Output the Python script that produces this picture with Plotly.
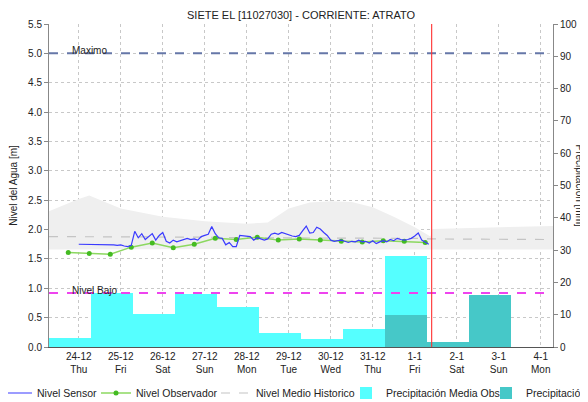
import pandas as pd
import plotly.graph_objects as go

# ---------------- data ----------------
title_text = "SIETE EL [11027030] - CORRIENTE: ATRATO"

# Nivel Sensor: every 2 hours from 24-12 00:00
sensor_start = "2020-12-24 00:00"
sensor_vals = [
    1.75, 1.75, 1.75, 1.74, 1.75, 1.75, 1.74, 1.74, 1.75, 1.74,
    1.74, 1.73, 1.74, 1.72, 1.71, 1.73, 1.97, 1.86, 1.93, 1.83,
    1.88, 1.93, 1.82, 1.90, 1.95, 1.80, 1.77, 1.82, 1.79, 1.81,
    1.83, 1.85, 1.83, 1.84, 1.82, 1.88, 1.90, 1.92, 2.05, 1.93,
    1.86, 1.85, 1.74, 1.78, 1.71, 1.71, 1.90, 1.89, 1.88, 1.88,
    1.82, 1.86, 1.84, 1.82, 1.84, 1.92, 1.94, 1.92, 1.95, 1.93,
    1.90, 1.89, 1.88, 1.90, 1.98, 2.06, 1.94, 1.95, 2.04, 2.01,
    1.95, 1.90, 1.82, 1.80, 1.81, 1.82, 1.80, 1.78, 1.80, 1.79,
    1.82, 1.79, 1.80, 1.77, 1.81, 1.76, 1.79, 1.81, 1.79, 1.83,
    1.81, 1.85, 1.83, 1.82, 1.83, 1.85, 1.89, 1.94, 1.82, 1.78,
    1.75,
]

# Nivel Observador: 06:00 and 18:00 readings
obs_start = "2020-12-23 18:00"
obs_vals = [1.61, 1.59, 1.58, 1.70, 1.77, 1.69, 1.75, 1.85, 1.83,
            1.87, 1.82, 1.84, 1.82, 1.80, 1.79, 1.81, 1.80, 1.78]

# Nivel Medio Historico and its band
hist_times = ["2020-12-23 07:00", "2020-12-24 00:00", "2020-12-24 06:00",
              "2020-12-25 00:00", "2020-12-26 00:00", "2020-12-27 00:00",
              "2020-12-28 00:00", "2020-12-28 12:00", "2020-12-29 00:00",
              "2020-12-29 12:00", "2020-12-30 00:00", "2020-12-30 12:00",
              "2020-12-31 00:00", "2020-12-31 12:00", "2021-01-01 00:00",
              "2021-01-01 09:00", "2021-01-01 10:00", "2021-01-02 00:00",
              "2021-01-03 00:00", "2021-01-04 00:00", "2021-01-04 07:00"]
hist_upper = [2.31, 2.52, 2.58, 2.36, 2.22, 2.14, 2.10, 2.12, 2.36, 2.46,
              2.48, 2.47, 2.38, 2.22, 2.04, 1.88, 2.01, 2.02, 2.04, 2.05, 2.06]
hist_lower = [1.66, 1.66, 1.66, 1.66, 1.66, 1.66, 1.66, 1.67, 1.68, 1.68,
              1.67, 1.66, 1.66, 1.66, 1.66, 1.66, 1.66, 1.66, 1.66, 1.66, 1.66]
hist_mean = [1.88, 1.88, 1.88, 1.87, 1.87, 1.87, 1.86, 1.86, 1.86, 1.86,
             1.86, 1.85, 1.85, 1.85, 1.85, 1.84, 1.84, 1.84, 1.84, 1.83, 1.83]

# Precipitation (daily 07:00 -> 07:00), bar centres at 19:00
precip_obs_start = "2020-12-23 19:00"
precip_obs = [2.8, 16.8, 10.3, 16.4, 12.3, 4.3, 2.5, 5.5, 28.2]
precip_pro_start = "2020-12-31 19:00"
precip_pro = [9.8, 1.6, 16.0]

# reference levels
nivel_maximo = 5.0
nivel_bajo = 0.92
now_time = "2021-01-01 09:40"

# x ticks
tick_dates = ["2020-12-24", "2020-12-25", "2020-12-26", "2020-12-27",
              "2020-12-28", "2020-12-29", "2020-12-30", "2020-12-31",
              "2021-01-01", "2021-01-02", "2021-01-03", "2021-01-04"]
tick_days = ["24-12", "25-12", "26-12", "27-12", "28-12", "29-12",
             "30-12", "31-12", "1-1", "2-1", "3-1", "4-1"]
tick_wd = ["Thu", "Fri", "Sat", "Sun", "Mon", "Tue", "Wed", "Thu",
           "Fri", "Sat", "Sun", "Mon"]
x_range = ["2020-12-23 07:00", "2021-01-04 07:00"]

# ---------------- figure ----------------
FONT = "Liberation Sans, Arial, sans-serif"
W, H = 588, 402
OFF = 8  # the page body adds an 8px margin; compensate inside the figure
ML, MT = 49 - OFF, 24 - OFF
MR = W - (553 - OFF)
MB = H - (347 - OFF)
PW = W - ML - MR
PH = H - MT - MB

sensor_t = pd.date_range(sensor_start, periods=len(sensor_vals), freq="2h")
obs_t = pd.date_range(obs_start, periods=len(obs_vals), freq="12h")
pobs_t = pd.date_range(precip_obs_start, periods=len(precip_obs), freq="D")
ppro_t = pd.date_range(precip_pro_start, periods=len(precip_pro), freq="D")
DAY_MS = 86400000

fig = go.Figure()

fig.add_trace(go.Bar(x=pobs_t, y=precip_obs, width=DAY_MS, yaxis="y2",
                     name="Precipitación Media Obs", marker_color="#55ffff",
                     marker_line_width=0, legend="legend4"))
fig.add_trace(go.Bar(x=ppro_t, y=precip_pro, width=DAY_MS, yaxis="y2",
                     name="Precipitación Media Pronosticada", marker_color="#46c8c8",
                     marker_line_width=0, legend="legend5"))

fig.add_trace(go.Scatter(x=pd.to_datetime(hist_times), y=hist_lower, mode="lines",
                         line=dict(width=0, color="#efefef"), showlegend=False,
                         hoverinfo="skip"))
fig.add_trace(go.Scatter(x=pd.to_datetime(hist_times), y=hist_upper, mode="lines",
                         line=dict(width=0, color="#efefef"), fill="tonexty",
                         fillcolor="#efefef", showlegend=False, hoverinfo="skip"))
fig.add_trace(go.Scatter(x=pd.to_datetime(hist_times), y=hist_mean, mode="lines",
                         line=dict(width=1.2, color="#c4c4c4", dash="dash"),
                         name="Nivel Medio Historico", legend="legend3"))
fig.add_trace(go.Scatter(x=obs_t, y=obs_vals, mode="lines+markers",
                         line=dict(width=1.5, color="#8cd860"),
                         marker=dict(size=5, color="#44bb22"),
                         name="Nivel Observador", legend="legend2"))
fig.add_trace(go.Scatter(x=sensor_t, y=sensor_vals, mode="lines",
                         line=dict(width=1.2, color="#3a3aff"),
                         name="Nivel Sensor", legend="legend"))

fig.add_shape(type="line", xref="paper", x0=0, x1=1, yref="y",
              y0=nivel_maximo, y1=nivel_maximo, layer="above",
              line=dict(color="#6677a8", width=2, dash="dash"))
fig.add_shape(type="line", xref="paper", x0=0, x1=1, yref="y",
              y0=nivel_bajo, y1=nivel_bajo, layer="above",
              line=dict(color="#ee44ee", width=2, dash="dash"))
fig.add_shape(type="line", xref="x", x0=now_time, x1=now_time, yref="paper",
              y0=0, y1=1.0, layer="above",
              line=dict(color="#ff3030", width=1.1))

fig.add_annotation(text="Maximo", xref="paper", x=0.042, xanchor="left",
                   yref="y", y=nivel_maximo, yanchor="bottom", yshift=-5,
                   showarrow=False, font=dict(size=10, color="#222222"))
fig.add_annotation(text="Nivel Bajo", xref="paper", x=0.042, xanchor="left",
                   yref="y", y=nivel_bajo, yanchor="bottom", yshift=-5,
                   showarrow=False, font=dict(size=10, color="#222222"))
# right axis title, reading top-to-bottom as in the original
fig.add_annotation(text="Precipitacion [mm]", xref="paper", yref="paper",
                   x=(579 - OFF - ML) / PW, y=0.5, textangle=90, showarrow=False,
                   xanchor="center", yanchor="middle",
                   font=dict(size=10, color="#222222"))


# legends: one per entry so the row does not wrap (last entry runs off the page)
def leg(text_px):
    return dict(orientation="h", x=(text_px - OFF - 40 - ML) / PW, xanchor="left",
                y=(MT + PH - (393 - OFF)) / PH, yanchor="middle",
                font=dict(size=10.5, color="#222222"),
                bgcolor="rgba(0,0,0,0)", borderwidth=0, itemwidth=30)


fig.update_layout(
    width=W, height=H,
    margin=dict(l=ML, r=MR, t=MT, b=MB, autoexpand=False),
    paper_bgcolor="white", plot_bgcolor="white",
    font=dict(family=FONT, size=11, color="#222222"),
    title=dict(text=title_text, xref="paper", x=0.5, xanchor="center",
               y=1 - 7 / H, yanchor="middle", font=dict(size=11, color="#222222")),
    barmode="overlay", bargap=0,
    showlegend=True,
    legend=leg(37), legend2=leg(136), legend3=leg(256),
    legend4=leg(386), legend5=leg(526),
    xaxis=dict(type="date", range=x_range, tickmode="array",
               tickvals=tick_dates,
               ticktext=[f"{d}<br>{w}" for d, w in zip(tick_days, tick_wd)],
               showgrid=True, gridcolor="#c8c8c8", griddash="dot",
               showline=True, linecolor="#555555", linewidth=1,
               ticks="", tickfont=dict(size=10), zeroline=False),
    yaxis=dict(range=[0, 5.5], dtick=0.5, tickformat=".1f",
               title=dict(text="Nivel del Agua [m]", font=dict(size=10), standoff=8),
               showgrid=True, gridcolor="#c8c8c8", griddash="dot",
               showline=True, linecolor="#888888", ticks="outside", ticklen=4,
               tickcolor="#888888", tickfont=dict(size=10), zeroline=False),
    yaxis2=dict(range=[0, 100], dtick=10, overlaying="y", side="right",
                showgrid=False, showline=True, linecolor="#888888",
                ticks="outside", ticklen=4, tickcolor="#888888",
                tickfont=dict(size=10), zeroline=False),
)

fig.write_html("out.html")
